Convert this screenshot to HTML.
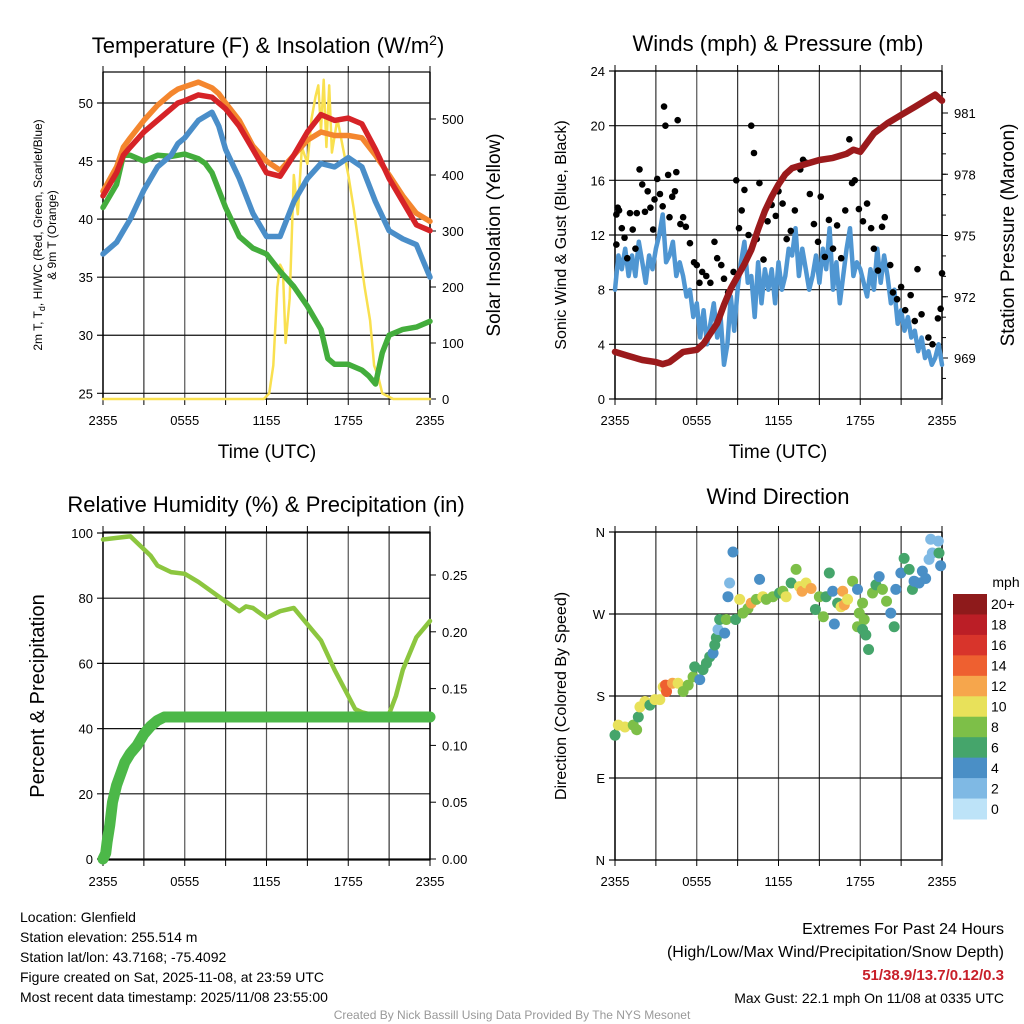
<!DOCTYPE html>
<html><head><meta charset="utf-8"><style>
body{margin:0;background:#fff;}
svg{display:block;font-family:"Liberation Sans",sans-serif;}
</style></head><body>
<svg id="c" width="1024" height="1024" viewBox="0 0 1024 1024"></svg>
<script>
// ---------- DATA ----------
const tickLabelsX = ["2355","0555","1155","1755","2355"];
const tHrs = [0,1,1.5,2,3,4,5,5.5,6,7,8,8.5,9,10,11,12,13,14,15,16,17,18,19,20,21,22,23,24];
const tempRed = [42,44,45.5,46.2,47.5,48.5,49.5,50,50.2,50.7,50.5,50,49.5,48,46,44,43.7,45.5,47.5,49,48.5,48.7,48.2,46,43.5,41.5,39.5,39];
const tempOrange = [42.4,44.5,46.2,47,48.5,49.8,50.8,51.2,51.4,51.8,51.3,50.8,50,48.5,46.3,45,44.2,45.5,46.8,47.5,47.2,47.2,47,45.5,43.8,42,40.5,39.8];
const heatIndex = [37,38,39,40,42.5,44.5,45.5,46.5,47,48.5,49.2,48,46,43.5,40.5,38.5,38.5,41.5,43.5,44.8,44.5,45.3,44.5,41.5,39,38.3,37.8,35];
const dewHrs = [0,1,1.5,2,3,4,5,6,7,7.5,8,9,10,11,12,13,14,15,16,16.5,17,18,19,19.5,20,20.5,21,22,23,24];
const dewpoint = [41,43,45.5,45.5,45,45.5,45.4,45.6,45.2,44.8,44,41,38.5,37.5,37,35.5,34.2,32.5,30.5,28,27.5,27.5,27,26.5,25.8,28.5,30,30.5,30.7,31.2];
const solarHrs = [0,11.8,12.2,12.5,12.8,13,13.2,13.4,13.7,14,14.3,14.6,15,15.3,15.6,15.8,16,16.2,16.4,16.6,16.8,17.2,17.6,18,18.4,18.8,19.2,19.6,19.9,20.2,20.5,20.9,21.3,24];
const solarVals = [0,0,10,60,200,240,230,100,180,400,330,450,420,500,540,560,480,570,450,560,440,500,450,400,340,270,200,140,60,40,10,5,0,0];
const windHrs = [0,0.25,0.5,0.75,1,1.25,1.5,1.75,2,2.25,2.5,2.75,3,3.25,3.5,3.75,4,4.25,4.5,4.75,5,5.25,5.5,5.75,6,6.25,6.5,6.75,7,7.25,7.5,7.75,8,8.25,8.5,8.75,9,9.25,9.5,9.75,10,10.25,10.5,10.75,11,11.25,11.5,11.75,12,12.25,12.5,12.75,13,13.25,13.5,13.75,14,14.25,14.5,14.75,15,15.25,15.5,15.75,16,16.25,16.5,16.75,17,17.25,17.5,17.75,18,18.25,18.5,18.75,19,19.25,19.5,19.75,20,20.25,20.5,20.75,21,21.25,21.5,21.75,22,22.25,22.5,22.75,23,23.25,23.5,23.75,24];
const windSpeed = [8,10.5,9.5,11,9,10.5,9,11.5,10,8.5,10.5,9.5,11,12,13.5,10,10.5,11.5,9,10,9,7.5,8,6,7,4.5,6.5,4,5.5,7,4.5,6,2.5,4,7.5,5,8,10,11.5,8.5,9,6,10,7,9.5,8,9.5,7,10,8,9,11,10.5,12.5,9,11,9.5,8,9,10.5,8.5,11,9.5,12.5,8,10,7,9,11,12.5,9,10,9.5,8.5,7.5,9.5,8,11,8.5,10.5,9,7,8,5.5,6.5,5,6,4.5,5,3.5,4.5,3,3.5,2.5,3,4,2.5,6];
const gustHrs = [0.1,0.1,0.2,0.3,0.5,0.7,0.9,1.1,1.3,1.5,1.6,1.8,2,2.2,2.4,2.6,2.8,2.9,3.1,3.3,3.5,3.6,3.7,3.9,4,4.2,4.4,4.5,4.6,4.8,5,5.2,5.5,5.8,6,6.2,6.4,6.7,7,7.3,7.5,7.8,8,8.3,8.7,8.9,9.1,9.3,9.5,9.8,10,10.2,10.4,10.6,10.9,11.2,11.5,11.8,12,12.3,12.6,12.9,13.2,13.6,13.8,14,14.3,14.6,14.9,15.1,15.4,15.7,16,16.3,16.6,16.9,17.2,17.4,17.6,17.9,18.2,18.5,18.8,19,19.3,19.6,19.8,20.2,20.4,20.7,21,21.3,21.7,22,22.2,22.5,23,23.3,23.7,23.9,24];
const gustVals = [11.3,13.5,14,13.8,12.5,11.8,10.3,13.6,12.4,11,13.6,16.8,15.7,13.7,15.2,14,12.4,14.6,16.1,15,14.1,21.4,20,16.4,13.3,14.8,15.2,16.6,20.4,12.8,13.3,12.6,11.4,10,9.8,8.5,9.3,9,8.5,11.5,10.3,9.8,8.8,7.8,9.3,16,12.5,13.8,15.3,12,20,18,11.7,15.8,10.2,13,14.2,13.4,15.2,14.3,11.7,12.3,13.8,16.8,17.5,17.3,15,12.8,11.5,14.8,10.4,13.1,11,12.7,10.3,13.8,19,15.8,16,13.9,13,14.3,12.5,11,9.4,12.6,13.3,9.8,7.8,7.3,8.2,6.5,7.6,5.7,9.5,6.2,4.5,4,5.9,6.6,9.2];
const presHrs = [0,1,2,3,3.5,4,5,6,6.5,7,7.5,8,8.5,9,9.5,10,10.5,11,11.5,12,12.5,13,14,15,16,17,17.5,18,19,20,21,22,23,23.5,24];
const pressure = [969.3,969.1,968.9,968.8,968.7,968.8,969.3,969.4,969.7,970.2,970.7,971.6,972.4,973.0,973.6,974.3,975.3,976.2,976.9,977.5,978.0,978.3,978.5,978.7,978.8,979.0,979.2,979.1,980.0,980.5,980.9,981.3,981.7,981.9,981.6];
const rhHrs = [0,1,2,2.5,3,3.5,4,5,6,7,8,9,10,10.5,11,12,13,14,15,16,17,18,18.5,19,20,21,21.5,22,23,24];
const rh = [98,98.5,99,97,95,93,90,88,87.5,85,82,79,76,77.5,77,74,76,77,72,67,58,50,46,45,44,44.5,50,58,68,73];
const precipHrs = [0,0.2,0.3,0.5,0.7,1,1.3,1.6,2,2.5,3,3.5,4,4.5,24];
const precip = [0,0.005,0.015,0.03,0.05,0.065,0.075,0.085,0.093,0.1,0.11,0.117,0.122,0.125,0.125];
const dirHrs = [0,0.24,0.73,1.34,1.59,1.71,1.83,2.2,2.56,2.93,3.29,3.54,3.71,3.78,4.22,4.63,5.0,5.37,5.73,5.85,6.22,6.46,6.71,6.95,7.2,7.32,7.44,7.56,7.68,8.05,8.17,8.29,8.41,8.66,8.85,9.15,9.39,9.76,10.0,10.37,10.61,10.85,11.1,11.59,12.07,12.32,12.56,12.93,13.29,13.54,13.73,14.02,14.39,14.71,15.0,15.29,15.49,15.73,15.98,16.1,16.34,16.59,16.71,16.83,17.07,17.44,17.8,17.93,18.17,18.29,17.8,18.17,18.41,18.61,18.9,19.15,19.39,19.63,19.93,20.24,20.49,20.61,20.98,21.22,21.59,21.83,21.95,22.32,22.56,22.8,23.05,23.29,23.17,23.73,23.78,23.9];
const dirDeg = [137,148,146,148,143,157,168,174,170,176,176,190,192,185,194,194,185,192,201,212,198,209,216,223,227,236,244,253,264,249,264,289,304,338,264,286,271,276,282,286,308,289,286,289,293,295,289,304,319,300,295,304,298,275,289,267,289,315,295,259,282,278,295,280,286,306,297,271,282,264,256,253,247,231,293,302,311,297,284,271,256,297,315,331,319,297,306,304,317,309,330,337,352,350,337,323];
const dirSpeed = [7,10,10,9,8,7,10,10,7,10,10,10,14,15,12,10,8,8,8,7,4,7,6,6,5,6,6,3,6,4,8,4,2,4,6,10,8,9,13,8,4,10,8,8,7,9,10,6,8,11,13,10,12,6,9,8,6,6,4,4,7,10,12,13,10,8,4,8,8,8,8,7,6,6,8,7,4,8,8,4,6,4,4,6,6,6,4,4,4,4,3,3,2,2,6,4];
const cbLabels = ["20+","18","16","14","12","10","8","6","4","2","0"];
const cbColors = ["#8e1a1b","#bb1e26","#d8342b","#ee6030","#f6a64c","#e8e15a","#7dbf48","#45a56b","#4a8fc6","#7fb9e4","#bde3f8"];

// ---------- HELPERS ----------
const NS="http://www.w3.org/2000/svg";
const svg=document.getElementById('c');
function el(tag,attrs,parent){const e=document.createElementNS(NS,tag);for(const k in attrs)e.setAttribute(k,attrs[k]);(parent||svg).appendChild(e);return e;}
function txt(s,x,y,size,anchor,parent,extra){const t=el('text',Object.assign({x:x,y:y,'font-size':size,'text-anchor':anchor||'middle',fill:'#000'},extra||{}),parent);t.textContent=s;return t;}
function lin(d0,d1,p0,p1){return v=>p0+(v-d0)*(p1-p0)/(d1-d0);}
function pathD(xs,ys,sx,sy){return xs.map((h,i)=>(i?'L':'M')+sx(h).toFixed(1)+','+sy(ys[i]).toFixed(1)).join('');}
function speedColor(s){const i=Math.min(10,Math.floor(s/2));return cbColors[10-i];}

function frame(g,L,R,T,B,yTicks,sy,yLab,rTicks,sr,rLab){
  const sx=lin(0,24,L,R);
  for(let h=0;h<=24;h+=3){const l=el('line',{x1:sx(h),x2:sx(h),y1:T,y2:B,stroke:h%6?'#333':'#555','stroke-width':h===0||h===24?1.6:1.2},g);
    
    el('line',{x1:sx(h),x2:sx(h),y1:T,y2:T-6,stroke:'#000','stroke-width':1},g);
    el('line',{x1:sx(h),x2:sx(h),y1:B,y2:B+6,stroke:'#000','stroke-width':1},g);}
  yTicks.forEach((v,i)=>{const y=sy(v);el('line',{x1:L-6,x2:R,y1:y,y2:y,stroke:'#111','stroke-width':1.2},g);
    const t=txt(yLab[i],L-10,y+5,13,'end',g);});
  if(rTicks){rTicks.forEach((v,i)=>{const y=sr(v);el('line',{x1:R,x2:R+6,y1:y,y2:y,stroke:'#000','stroke-width':1},g);
    const t=txt(rLab[i],R+12,y+5,13,'start',g);});}
  el('rect',{x:L,y:T,width:R-L,height:B-T,fill:'none',stroke:'#000','stroke-width':1.2},g);
  tickLabelsX.forEach((s,i)=>{const t=txt(s,sx(i*6),B+26,13,'middle',g);});
  return sx;
}
function series(g,xs,ys,sx,sy,color,w,name){const p=el('path',{d:pathD(xs,ys,sx,sy),fill:'none',stroke:color,'stroke-width':w,'stroke-linejoin':'round','stroke-linecap':'round'},g);
  return p;}

// ---------- PANEL 1 ----------
{const g=el('g',{});  
 const L=103,R=430,T=72,B=399;
 const sy=lin(25,50,393.3,103); const sr=lin(0,500,399,119);
 const sx=frame(g,L,R,T,B,[25,30,35,40,45,50],sy,["25","30","35","40","45","50"],[0,100,200,300,400,500],sr,["0","100","200","300","400","500"]);
 series(g,solarHrs,solarVals,sx,sr,'#f9e04f',2.5,'solar-line');
 series(g,dewHrs,dewpoint,sx,sy,'#43ad3c',5.5,'dewpoint-line');
 series(g,tHrs,heatIndex,sx,sy,'#4a8ec9',5.5,'heat-index-line');
 series(g,tHrs,tempOrange,sx,sy,'#f4862e',5.5,'temp-9m-line');
 series(g,tHrs,tempRed,sx,sy,'#d62327',5.5,'temp-2m-line');
 const t=txt('',268,53,22,'middle',g);t.innerHTML='Temperature (F) &amp; Insolation (W/m<tspan dy="-8" font-size="14">2</tspan><tspan dy="8">)</tspan>';
 const a=txt('',0,0,12,'middle',g,{transform:'translate(42,235) rotate(-90)'});a.innerHTML='2m T, T<tspan dy="3" font-size="9">d</tspan><tspan dy="-3">, HI/WC (Red, Green, Scarlet/Blue)</tspan>';
 const a2=txt('& 9m T (Orange)',0,0,12,'middle',g,{transform:'translate(56,235) rotate(-90)'});
 const r=txt('Solar Insolation (Yellow)',0,0,19,'middle',g,{transform:'translate(500,235) rotate(-90)'});
 const x=txt('Time (UTC)',267,458,19,'middle',g);
}
// ---------- PANEL 2 ----------
{const g=el('g',{});  
 const L=615,R=942,T=71,B=399;
 const sy=lin(0,24,399,71); const sr=lin(969,981,358,113);
 const sx=frame(g,L,R,T,B,[0,4,8,12,16,20,24],sy,["0","4","8","12","16","20","24"],[969,972,975,978,981],sr,["969","972","975","978","981"]);
 for(let p=968;p<=982;p++){const y=sr(p);if(y>T&&y<B)el('line',{x1:R,x2:R+4,y1:y,y2:y,stroke:'#000','stroke-width':1},g);}
 series(g,windHrs,windSpeed,sx,sy,'#4f96d2',4.5,'wind-speed-line');
 gustHrs.forEach((h,i)=>{const c=el('circle',{cx:sx(h),cy:sy(gustVals[i]),r:3.3,fill:'#000'},g);
   });
 series(g,presHrs,pressure,sx,sr,'#9b1a1c',6.5,'pressure-line');
 const t=txt('Winds (mph) & Pressure (mb)',778,51,22,'middle',g);
 const a=txt('Sonic Wind & Gust (Blue, Black)',0,0,16,'middle',g,{transform:'translate(566,235) rotate(-90)'});
 const r=txt('Station Pressure (Maroon)',0,0,19,'middle',g,{transform:'translate(1014,235) rotate(-90)'});
 const x=txt('Time (UTC)',778,458,19,'middle',g);
}
// ---------- PANEL 3 ----------
{const g=el('g',{});  
 const L=103,R=430,T=532,B=860;
 const sy=lin(0,100,859,533); const sr=lin(0,0.25,859,575);
 const sx=frame(g,L,R,T,B,[0,20,40,60,80,100],sy,["0","20","40","60","80","100"],[0,0.05,0.1,0.15,0.2,0.25],sr,["0.00","0.05","0.10","0.15","0.20","0.25"]);
 series(g,rhHrs,rh,sx,sy,'#8cc63f',4.5,'rh-line');
 series(g,precipHrs,precip,sx,sr,'#4cb848',11,'precip-line');
 const t=txt('Relative Humidity (%) & Precipitation (in)',266,512,22,'middle',g);
 const a=txt('Percent & Precipitation',0,0,20,'middle',g,{transform:'translate(44,696) rotate(-90)'});
}
// ---------- PANEL 4 ----------
{const g=el('g',{});  
 const L=615,R=942,T=532,B=860;
 const sy=lin(0,360,860,532);
 const sx=frame(g,L,R,T,B,[0,90,180,270,360],sy,["N","E","S","W","N"]);
 dirHrs.forEach((h,i)=>{const c=el('circle',{cx:sx(h),cy:sy(dirDeg[i]),r:5.5,fill:speedColor(dirSpeed[i])},g);
   });
 const t=txt('Wind Direction',778,504,22,'middle',g);
 const a=txt('Direction (Colored By Speed)',0,0,16,'middle',g,{transform:'translate(566,696) rotate(-90)'});
 const lg=el('g',{},g);
 const bh=225/11;
 cbColors.forEach((c,i)=>{const r=el('rect',{x:953,y:594+i*bh,width:34,height:bh+0.5,fill:c},lg);
   const l=txt(cbLabels[i],991,594+i*bh+bh/2+5,14,'start',lg);});
 const m=txt('mph',1006,587,14,'middle',lg);
}
// ---------- FOOTER ----------
{const g=el('g',{});  
 const lines=["Location: Glenfield","Station elevation: 255.514 m","Station lat/lon: 43.7168; -75.4092","Figure created on Sat, 2025-11-08, at 23:59 UTC","Most recent data timestamp: 2025/11/08 23:55:00"];
 lines.forEach((s,i)=>{const t=txt(s,20,922+i*20,14,'start',g);});
 let t=txt('Extremes For Past 24 Hours',1004,934,16,'end',g);
 t=txt('(High/Low/Max Wind/Precipitation/Snow Depth)',1004,957,16,'end',g);
 t=txt('51/38.9/13.7/0.12/0.3',1004,980,15,'end',g,{fill:'#c8202a','font-weight':'bold'});
 t=txt('Max Gust: 22.1 mph On 11/08 at 0335 UTC',1004,1003,14,'end',g);
 t=txt('Created By Nick Bassill Using Data Provided By The NYS Mesonet',512,1019,12,'middle',g,{fill:'#999'});
}
</script>
</body></html>
